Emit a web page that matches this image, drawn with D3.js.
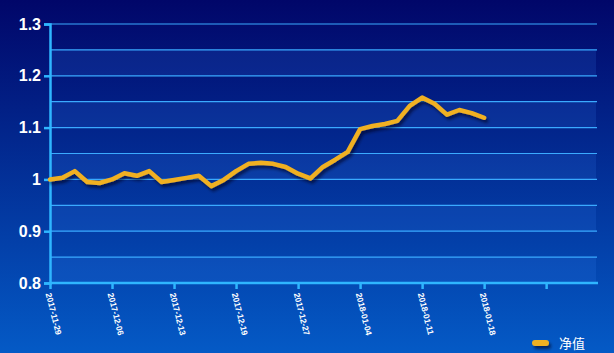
<!DOCTYPE html>
<html>
<head>
<meta charset="utf-8">
<script src="https://cdn.jsdelivr.net/npm/d3@7"></script>
<style>
body { margin: 0; padding: 0; overflow: hidden; }
svg { display: block; font-family: Arial, "Liberation Sans", sans-serif; }
</style>
</head>
<body>
<svg id="chart" width="614" height="353"></svg>
<script>
// net value series, one point per trading day
var values = [1.000, 1.003, 1.016, 0.995, 0.993, 1.000, 1.012, 1.007, 1.016, 0.995,
              0.999, 1.003, 1.007, 0.987, 0.999, 1.016, 1.030, 1.032, 1.030, 1.024,
              1.011, 1.002, 1.024, 1.038, 1.053, 1.097, 1.103, 1.107, 1.113, 1.142,
              1.158, 1.146, 1.125, 1.134, 1.128, 1.119];
var tick_labels = ["2017-11-29", "2017-12-06", "2017-12-13", "2017-12-19", "2017-12-27",
                   "2018-01-04", "2018-01-11", "2018-01-18", ""];
var y_ticks = [0.8, 0.9, 1, 1.1, 1.2, 1.3];
var series_name = "净值";

var svg = d3.select("#chart");
var plot_left = 50, plot_right = 597, plot_top = 24, plot_bottom = 283;

var defs = svg.append("defs");
var grad = defs.append("linearGradient")
  .attr("id", "bg").attr("x1", 0).attr("y1", 0).attr("x2", 0).attr("y2", 1);
grad.append("stop").attr("offset", "0%").attr("stop-color", "#010669");
grad.append("stop").attr("offset", "100%").attr("stop-color", "#045ac6");

var shadow = defs.append("filter").attr("id", "shadow")
  .attr("filterUnits", "userSpaceOnUse")
  .attr("x", 0).attr("y", 0).attr("width", 614).attr("height", 353);
shadow.append("feDropShadow").attr("dx", 2).attr("dy", 3).attr("stdDeviation", 1.5)
  .attr("flood-color", "#000020").attr("flood-opacity", 0.6);

svg.append("rect").attr("width", 614).attr("height", 353).attr("fill", "url(#bg)");

var x_scale = d3.scaleLinear().domain([0, 44.1]).range([plot_left, plot_right]);
var y_scale = d3.scaleLinear().domain([0.8, 1.3]).range([plot_bottom, plot_top]);

// alternating bands
var bands = d3.range(0.8, 1.3, 0.05).map(function(d) { return Math.round(d * 100) / 100; });
svg.selectAll("band")
  .data(bands)
  .enter()
  .append("rect")
  .attr("x", plot_left)
  .attr("width", plot_right - 1 - plot_left)
  .attr("y", function(d) { return y_scale(d + 0.05); })
  .attr("height", function(d) { return y_scale(d) - y_scale(d + 0.05); })
  .attr("fill", "#3d8cff")
  .style("opacity", function(d, i) { return i % 2 == 0 ? 0.14 : 0; });

// grid lines every 0.05
svg.selectAll("grid")
  .data(bands.concat([1.3]))
  .enter()
  .append("line")
  .attr("x1", plot_left).attr("x2", plot_right)
  .attr("y1", function(d) { return y_scale(d); })
  .attr("y2", function(d) { return y_scale(d); })
  .attr("stroke", "#3aaaff")
  .attr("stroke-width", 1.2);

// y axis
var y_axis = svg.append("g")
  .attr("transform", "translate(" + plot_left + ",0)")
  .call(d3.axisLeft(y_scale).tickValues(y_ticks).tickSize(6).tickPadding(3)
    .tickFormat(function(d) { return d3.format("")(d); }));
y_axis.select(".domain").attr("stroke", "#2fb6ff").attr("stroke-width", 2.5);
y_axis.selectAll(".tick line").attr("stroke", "#2fb6ff").attr("stroke-width", 2.5);
y_axis.selectAll(".tick text")
  .attr("fill", "#ffffff").style("font-size", "16px").style("font-weight", "bold");

// x axis
var x_axis = svg.append("g")
  .attr("transform", "translate(0," + plot_bottom + ")")
  .call(d3.axisBottom(x_scale).tickValues(d3.range(0, 41, 5)).tickSize(6)
    .tickFormat(function(d, i) { return tick_labels[i]; }));
x_axis.select(".domain").attr("stroke", "#2fb6ff").attr("stroke-width", 2.5)
  .attr("d", "M" + plot_left + ",0H" + (plot_right + 1));
x_axis.selectAll(".tick line").attr("stroke", "#2fb6ff").attr("stroke-width", 2.5);
x_axis.selectAll(".tick text")
  .attr("fill", "#ffffff")
  .style("font-size", "8.5px")
  .style("font-weight", "bold")
  .attr("text-anchor", "start")
  .attr("dy", "0.35em")
  .attr("transform", "translate(-2,10) rotate(76)")
  .attr("x", 0).attr("y", 0);

// the line
var line = d3.line()
  .x(function(d, i) { return x_scale(i); })
  .y(function(d) { return y_scale(d); });

svg.append("path")
  .datum(values)
  .attr("d", line)
  .attr("fill", "none")
  .attr("stroke", "#f0b022")
  .attr("stroke-width", 4.5)
  .attr("stroke-linejoin", "round")
  .attr("stroke-linecap", "round")
  .attr("filter", "url(#shadow)");

// legend
svg.append("rect")
  .attr("x", 532).attr("y", 340).attr("width", 17).attr("height", 6).attr("rx", 3)
  .attr("fill", "#f0b022")
  .attr("filter", "url(#shadow)");
svg.append("text")
  .attr("x", 559).attr("y", 348)
  .attr("fill", "#ffffff")
  .style("font-family", "'Noto Sans CJK SC', sans-serif")
  .style("font-size", "13px")
  .text(series_name);
</script>
</body>
</html>
